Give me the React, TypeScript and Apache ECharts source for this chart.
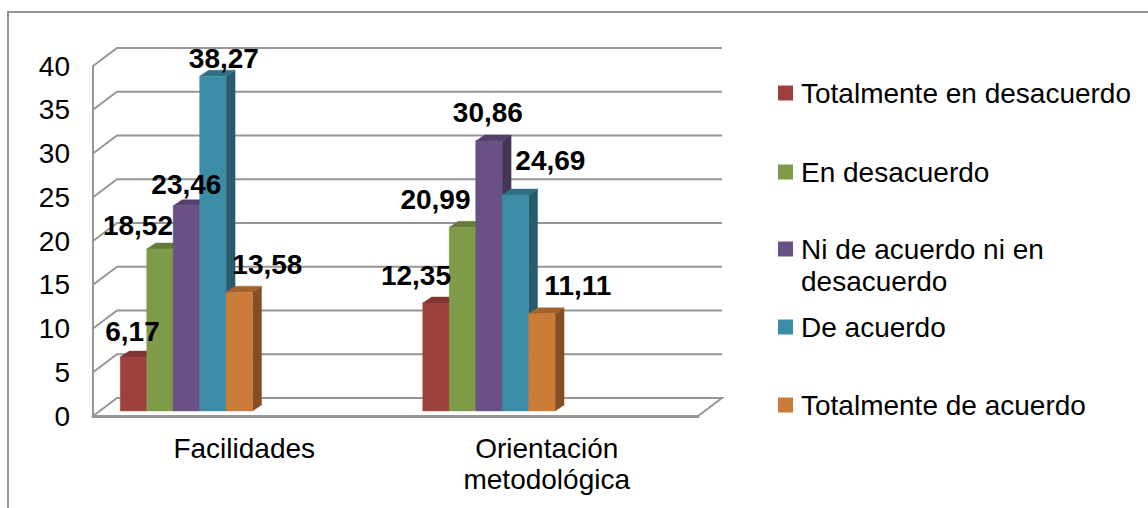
import React, { useEffect, useRef } from "react";
import * as echarts from "echarts";

const categories = ["Facilidades", "Orientación\nmetodológica"];
const seriesNames = [
  "Totalmente en desacuerdo",
  "En desacuerdo",
  "Ni de acuerdo ni en desacuerdo",
  "De acuerdo",
  "Totalmente de acuerdo",
];
const totalmenteDesacuerdo = [6.17, 12.35];
const enDesacuerdo = [18.52, 20.99];
const niNi = [23.46, 30.86];
const deAcuerdo = [38.27, 24.69];
const totalmenteAcuerdo = [13.58, 11.11];
const values = [totalmenteDesacuerdo, enDesacuerdo, niNi, deAcuerdo, totalmenteAcuerdo];
const yTicks = [0, 5, 10, 15, 20, 25, 30, 35, 40];

const faceColors = ["#9E413E", "#7F9A48", "#695185", "#3C8CA5", "#CB7B38"];
const topColors = ["#7F3432", "#667B3A", "#54416A", "#307084", "#A2622D"];
const sideColors = ["#672A28", "#53652F", "#443556", "#275B6B", "#844F24"];

// label-centre offsets from the top-centre of each bar (per series, per category)
const labelDx = [[-1, -20], [-22, -27], [0, -1], [11, 35], [28, 36]];
const labelDy = [[-26, -27], [-23, -28], [-21, -28], [-18, -34], [-28, -28]];

const LINE = "#969696";
const FONT = "'Liberation Sans', Arial, sans-serif";
const DEPTH_X = 24;
const DEPTH_Y = 18;
const BAR_DX = 9;
const BAR_DY = 6;
const BASE_LIFT = 5;
const legendCenters = [93, 172, 249, 327, 405];

function barRect(api: any, s: number) {
  const cat = api.value(0);
  const [cx, y] = api.coord([cat, api.value(1)]);
  const band = api.size([1, 0])[0];
  const x0 = cx - band / 2 + band * (0.09 + s * 0.0875);
  const w = band * 0.0875;
  const base = api.coord([cat, 0])[1] - BASE_LIFT;
  return { x0, x1: x0 + w, top: y - BASE_LIFT, base };
}

export default function App() {
  const ref = useRef<HTMLDivElement>(null);
  useEffect(() => {
    const chart = echarts.init(ref.current!, undefined, { renderer: "svg" });

    const wallSeries = {
      type: "custom",
      coordinateSystem: "cartesian2d",
      silent: true,
      clip: false,
      z: 1,
      data: yTicks.map((t) => [0, t]),
      encode: { x: 0, y: 1 },
      renderItem: (params: any, api: any) => {
        const y = api.coord([0, api.value(1)])[1];
        const { x, width } = params.coordSys;
        const pts = [
          [x, y],
          [x + DEPTH_X, y - DEPTH_Y],
          [x + width + DEPTH_X, y - DEPTH_Y],
        ];
        if (api.value(1) === 0) pts.push([x + width, y]);
        return {
          type: "polyline",
          shape: { points: pts },
          style: { stroke: LINE, lineWidth: 2, fill: "none" },
        };
      },
    };

    const barSeries = seriesNames.map((name, s) => ({
      name,
      type: "custom",
      coordinateSystem: "cartesian2d",
      silent: true,
      clip: false,
      z: 2 + s,
      itemStyle: { color: faceColors[s] },
      data: values[s].map((v, i) => [i, v]),
      encode: { x: 0, y: 1 },
      renderItem: (_p: any, api: any) => {
        const { x0, x1, top, base } = barRect(api, s);
        const poly = (points: number[][], c: string) => ({
          type: "polygon",
          shape: { points },
          style: { fill: c, stroke: c, lineWidth: 0.4 },
        });
        return {
          type: "group",
          children: [
            poly(
              [
                [x1, top],
                [x1 + BAR_DX, top - BAR_DY],
                [x1 + BAR_DX, base - BAR_DY],
                [x1, base],
              ],
              sideColors[s]
            ),
            poly(
              [
                [x0, top],
                [x0 + BAR_DX, top - BAR_DY],
                [x1 + BAR_DX, top - BAR_DY],
                [x1, top],
              ],
              topColors[s]
            ),
            poly(
              [
                [x0, top],
                [x1, top],
                [x1, base],
                [x0, base],
              ],
              faceColors[s]
            ),
          ],
        };
      },
    }));

    const labelSeries = {
      type: "custom",
      coordinateSystem: "cartesian2d",
      silent: true,
      clip: false,
      z: 20,
      data: values.flatMap((vals, s) => vals.map((v, i) => [i, v, s])),
      encode: { x: 0, y: 1 },
      renderItem: (_p: any, api: any) => {
        const s = api.value(2);
        const cat = api.value(0);
        const { x0, x1, top } = barRect(api, s);
        return {
          type: "text",
          x: (x0 + x1) / 2 + labelDx[s][cat],
          y: top + labelDy[s][cat],
          style: {
            text: api.value(1).toFixed(2).replace(".", ","),
            font: `bold 28px ${FONT}`,
            fill: "#000",
            align: "center",
            verticalAlign: "middle",
          },
        };
      },
    };

    chart.setOption({
      animation: false,
      backgroundColor: "#ffffff",
      textStyle: { fontFamily: FONT },
      grid: { left: 93, right: 450, top: 66, bottom: 92, containLabel: false },
      xAxis: {
        type: "category",
        data: categories,
        axisLine: { show: true, lineStyle: { color: LINE, width: 3 } },
        axisTick: { show: false },
        axisLabel: { color: "#000", fontSize: 28, fontFamily: FONT, lineHeight: 31, margin: 17 },
      },
      yAxis: {
        type: "value",
        min: 0,
        max: 40,
        interval: 5,
        axisLine: { show: true, lineStyle: { color: LINE, width: 2 } },
        axisTick: { show: false },
        splitLine: { show: false },
        axisLabel: { color: "#000", fontSize: 28, fontFamily: FONT, margin: 23 },
      },
      legend: seriesNames.map((name, s) => ({
        data: [name],
        left: 778,
        top: legendCenters[s] - 16 - (s === 2 ? 32 : 0),
        padding: 0,
        selectedMode: false,
        itemWidth: 15,
        itemHeight: 15,
        icon: "rect",
        formatter: (n: string) =>
          n === "Ni de acuerdo ni en desacuerdo" ? "\nNi de acuerdo ni en\ndesacuerdo" : n,
        textStyle: { color: "#000", fontSize: 28, fontFamily: FONT, lineHeight: 32, padding: [0, 0, 0, 3] },
      })),
      graphic: [
        {
          type: "polyline",
          shape: { points: [[8, 508], [8, 12], [1148, 12]] },
          style: { stroke: "#969696", lineWidth: 2, fill: "none" },
          silent: true,
        },
      ],
      series: [wallSeries, ...barSeries, labelSeries],
    });
    return () => chart.dispose();
  }, []);
  return (
    <div
      ref={ref}
      style={{ position: "absolute", left: 0, top: 0, width: 1148, height: 508 }}
    />
  );
}
